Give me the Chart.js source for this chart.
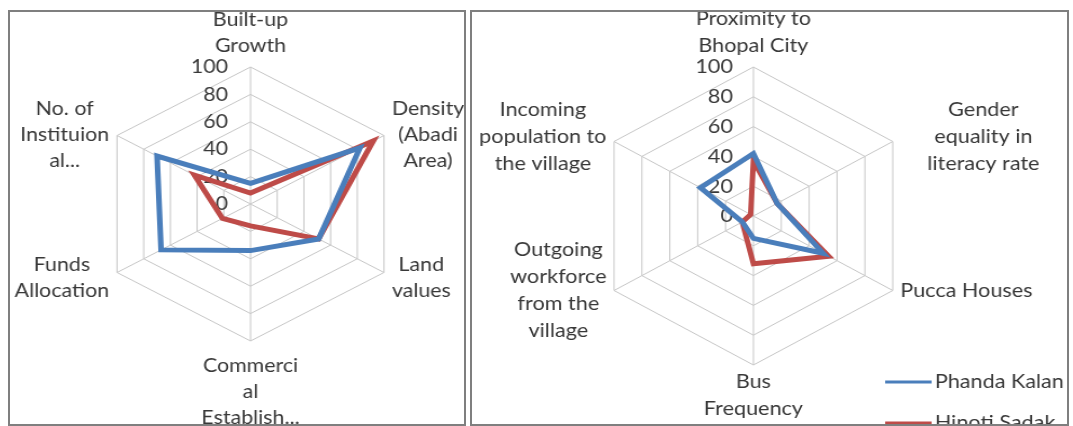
<!DOCTYPE html>
<html><head><meta charset="utf-8">
<script src="https://cdn.jsdelivr.net/npm/chart.js@4/dist/chart.umd.min.js"></script>
<style>
html,body{margin:0;padding:0;background:#fff;width:1073px;height:426px;overflow:hidden;position:relative;}
.panel{position:absolute;border:2px solid #7f7f7f;box-sizing:border-box;pointer-events:none;z-index:2}
.wrap{position:absolute;top:0;height:426px;transform-origin:0 0;}
canvas{display:block}
</style></head><body>
<div class="wrap" style="left:2.5px;width:440px;transform:scaleX(1.125)"><canvas id="c1" width="440" height="426"></canvas></div>
<div class="wrap" style="left:450.6px;width:580px;transform:scaleX(1.08)"><canvas id="c2" width="580" height="426"></canvas></div>
<div class="panel" style="left:8px;top:10px;width:458px;height:416px"></div>
<div class="panel" style="left:470px;top:10px;width:599px;height:416px"></div>
<script>
// ---- data ----
const seriesNames = ["Phanda Kalan", "Hinoti Sadak"];
const tickValues = [0, 20, 40, 60, 80, 100];
const leftCategories = [["Built-up","Growth"],["Density","(Abadi","Area)"],["Land","values"],["Commerci","al","Establish..."],["Funds","Allocation"],["No. of","Instituion","al..."]];
const leftPhanda = [15, 82, 51, 34, 67, 70];
const leftHinoti = [8, 92, 51, 16, 21, 42];
const rightCategories = [["Proximity to","Bhopal City"],["Gender","equality in","literacy rate"],["Pucca Houses"],["Bus","Frequency"],["Outgoing","workforce","from the","village"],["Incoming","population to","the village"]];
const rightPhanda = [42, 17, 50, 15, 8, 38];
const rightHinoti = [37, 17, 54, 32, 8, 2];

const FONT = 'Lato, "Open Sans", sans-serif';
const colors = ['#4a7ebb', '#be4b48'];
const textColor = '#383838';

const decor = {
  id: 'decor',
  beforeDatasetsDraw(chart, args, o) {
    const s = chart.scales.r, ctx = chart.ctx;
    ctx.save();
    ctx.font = o.tickFont; ctx.fillStyle = textColor;
    ctx.textAlign = 'right'; ctx.textBaseline = 'middle';
    tickValues.forEach(v => {
      const d = s.getDistanceFromCenterForValue(v);
      ctx.fillText(String(v), s.xCenter - o.tickGap, s.yCenter - d + o.tickDy);
    });
    ctx.restore();
  },
  afterDraw(chart, args, o) {
    const s = chart.scales.r, ctx = chart.ctx;
    ctx.save();
    ctx.font = o.labelFont; ctx.fillStyle = textColor;
    ctx.textAlign = 'center'; ctx.textBaseline = 'middle';
    const lh = o.lineHeight;
    chart.data.labels.forEach((lines, i) => {
      const p = s.getPointPosition(i, s.drawingArea);
      const n = lines.length;
      const w = Math.max(...lines.map(t => ctx.measureText(t).width));
      let cx, firstY;
      const dx = p.x - s.xCenter;
      if (Math.abs(dx) < 1) {
        cx = p.x;
        if (p.y < s.yCenter) firstY = p.y - o.topGap - (n - 1) * lh;
        else firstY = p.y + o.bottomGap;
      } else {
        cx = dx > 0 ? p.x + o.sideGap + w / 2 : p.x - o.sideGap - w / 2;
        const dy = p.y < s.yCenter ? o.upperDy : o.lowerDy;
        firstY = p.y + dy - (n - 1) * lh / 2;
      }
      cx += (o.shiftX && o.shiftX[i]) || 0;
      lines.forEach((t, k) => ctx.fillText(t, cx, firstY + k * lh));
    });
    if (o.legend) {
      const L = o.legend;
      ctx.textAlign = 'left';
      chart.data.datasets.forEach((ds, k) => {
        const y = L.y + k * L.step;
        ctx.strokeStyle = ds.borderColor; ctx.lineWidth = 3;
        ctx.beginPath(); ctx.moveTo(L.x, y); ctx.lineTo(L.x + L.len, y); ctx.stroke();
        ctx.fillStyle = textColor;
        ctx.fillText(ds.label, L.x + L.len + 3, y);
      });
    }
    ctx.restore();
  }
};

function makeChart(id, labels, a, b, padding, decorOpts) {
  return new Chart(document.getElementById(id), {
    type: 'radar',
    data: {
      labels: labels,
      datasets: [a, b].map((d, k) => ({
        label: seriesNames[k], data: d, borderColor: colors[k], backgroundColor: 'transparent',
        borderWidth: 5, pointRadius: 0, fill: false, tension: 0, borderJoinStyle: 'miter'
      }))
    },
    options: {
      responsive: false, animation: false, devicePixelRatio: 1,
      layout: { padding: padding },
      plugins: { legend: { display: false }, tooltip: { enabled: false }, decor: decorOpts },
      scales: {
        r: {
          min: 0, max: 100,
          ticks: { display: false, stepSize: 20 },
          pointLabels: { display: false },
          grid: { color: '#c6c6c6', lineWidth: 1 },
          angleLines: { color: '#c6c6c6', lineWidth: 1 }
        }
      }
    },
    plugins: [decor]
  });
}

makeChart('c1', leftCategories, leftPhanda, leftHinoti,
  { left: 83, right: 83, top: 67, bottom: 85 },
  { tickFont: '19px ' + FONT, labelFont: '19px ' + FONT, tickGap: 20, tickDy: 0, lineHeight: 26,
    topGap: 21, bottomGap: 25, sideGap: 7, upperDy: -1, lowerDy: 5 });

makeChart('c2', rightCategories, rightPhanda, rightHinoti,
  { left: 131, right: 151, top: 67, bottom: 61 },
  { tickFont: '20px ' + FONT, labelFont: '20px ' + FONT, tickGap: 19, tickDy: 0, lineHeight: 27,
    topGap: 21, bottomGap: 17, sideGap: 7, upperDy: -5, lowerDy: 0,
    shiftX: [0, 25, 0, 0, 0, 0],
    legend: { x: 402, y: 382, step: 41, len: 43 } });
</script>
</body></html>
